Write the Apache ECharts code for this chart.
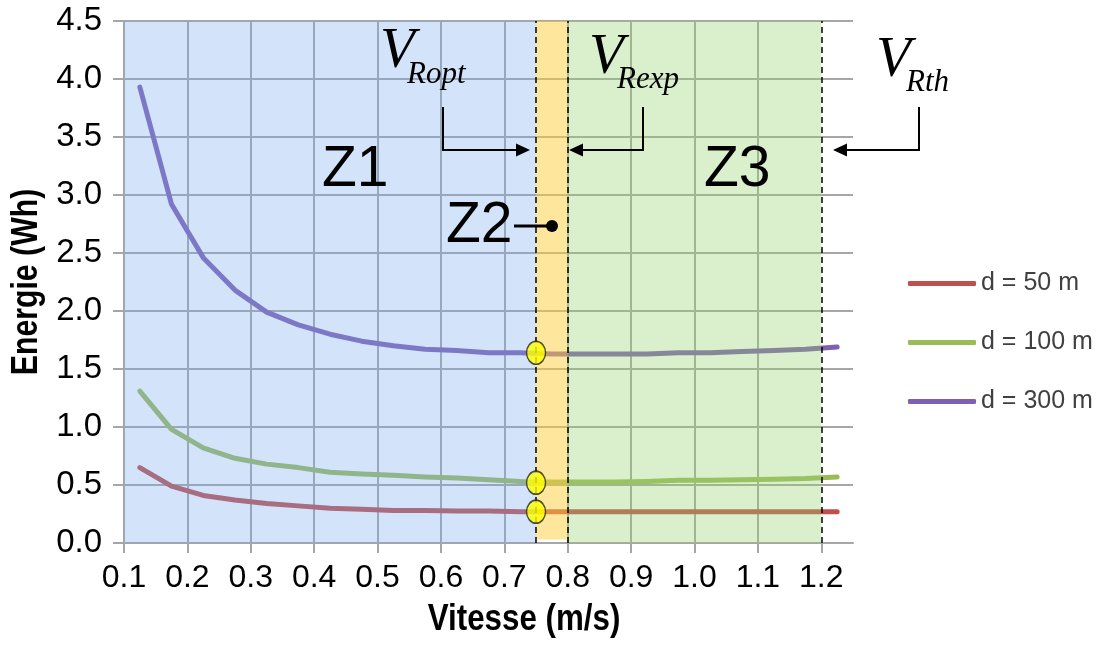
<!DOCTYPE html>
<html>
<head>
<meta charset="utf-8">
<script src="https://cdn.jsdelivr.net/npm/echarts@6/dist/echarts.min.js"></script>
<style>
  html, body { margin: 0; padding: 0; background: #fff; }
  #main { width: 1109px; height: 645px; }
</style>
</head>
<body>
<div id="main"></div>
<script>
// vitesse (m/s)
var vitesse = [0.125, 0.175, 0.225, 0.275, 0.325, 0.375, 0.425, 0.475, 0.525, 0.575, 0.625, 0.675,
               0.725, 0.775, 0.825, 0.875, 0.925, 0.975, 1.025, 1.075, 1.125, 1.175, 1.225];
// energie (Wh)
var d50  = [0.65, 0.49, 0.41, 0.37, 0.34, 0.32, 0.30, 0.29, 0.28, 0.28, 0.275, 0.275,
            0.27, 0.27, 0.27, 0.27, 0.27, 0.27, 0.27, 0.27, 0.27, 0.27, 0.27];
var d100 = [1.31, 0.98, 0.82, 0.73, 0.68, 0.65, 0.61, 0.595, 0.585, 0.57, 0.56, 0.545,
            0.53, 0.525, 0.525, 0.525, 0.53, 0.54, 0.54, 0.545, 0.55, 0.555, 0.57];
var d300 = [3.93, 2.92, 2.46, 2.18, 1.99, 1.88, 1.80, 1.74, 1.70, 1.67, 1.66, 1.64,
            1.64, 1.63, 1.63, 1.63, 1.63, 1.64, 1.64, 1.65, 1.66, 1.67, 1.69];
var seriesNames = ['d = 50 m', 'd = 100 m', 'd = 300 m'];
var xTicks = [0.1, 0.2, 0.3, 0.4, 0.5, 0.6, 0.7, 0.8, 0.9, 1.0, 1.1, 1.2];
// zones Z1 / Z2 / Z3 and the V_Ropt, V_Rexp, V_Rth limits
var zoneZ1 = [0.1, 0.75];
var zoneZ2 = [0.75, 0.8];
var zoneZ3 = [0.8, 1.2];
var limits = [0.75, 0.8, 1.2];
var optDots = [[0.75, 0.27], [0.75, 0.52], [0.75, 1.64]];

function pairs(xs, ys) {
  return xs.map(function (x, i) { return [x, ys[i]]; });
}

var myChart = echarts.init(document.getElementById('main'));

var labelFont = '"Liberation Sans", Arial, sans-serif';
var serif = '"Liberation Serif", "Times New Roman", serif';
var gridGray = '#a6a6a6';

var lineStyleOf = function (c) {
  return { width: 5, color: c, cap: 'round', join: 'round' };
};

myChart.setOption({
  animation: false,
  backgroundColor: '#fff',
  grid: { left: 124, right: 256, top: 21, bottom: 102 },
  legend: {
    data: seriesNames,
    orient: 'vertical',
    left: 903,
    top: 266,
    icon: 'roundRect',
    itemWidth: 68,
    itemHeight: 5,
    itemGap: 34,
    itemStyle: { borderWidth: 0 },
    textStyle: { fontFamily: labelFont, fontSize: 25, color: '#404040', lineHeight: 25 }
  },
  xAxis: {
    type: 'value',
    min: 0.1,
    max: 1.25,
    interval: 0.1,
    axisLine: { show: true, lineStyle: { color: gridGray, width: 2 } },
    axisTick: { show: true, length: 10, customValues: xTicks, lineStyle: { color: gridGray, width: 2 } },
    axisLabel: {
      customValues: xTicks,
      margin: 19,
      fontFamily: labelFont, fontSize: 32, color: '#000',
      formatter: function (v) { return v.toFixed(1); }
    },
    splitLine: { show: true, showMaxLine: false, lineStyle: { color: gridGray, width: 2 } }
  },
  yAxis: {
    type: 'value',
    min: 0,
    max: 4.5,
    interval: 0.5,
    axisLine: { show: true, lineStyle: { color: gridGray, width: 2 } },
    axisTick: { show: true, length: 11, lineStyle: { color: gridGray, width: 2 } },
    axisLabel: {
      margin: 22,
      fontFamily: labelFont, fontSize: 33, color: '#000',
      formatter: function (v) { return v.toFixed(1); }
    },
    splitLine: { show: true, lineStyle: { color: gridGray, width: 2 } }
  },
  series: [
    { name: seriesNames[0], type: 'line', z: 2, symbol: 'none', color: '#c0504d',
      lineStyle: lineStyleOf('#c0504d'), data: pairs(vitesse, d50) },
    { name: seriesNames[1], type: 'line', z: 2, symbol: 'none', color: '#9bbb59',
      lineStyle: lineStyleOf('#9bbb59'), data: pairs(vitesse, d100) },
    { name: seriesNames[2], type: 'line', z: 2, symbol: 'none', color: '#7f60b0',
      lineStyle: lineStyleOf('#7f60b0'), data: pairs(vitesse, d300) },
    // zones (translucent overlay, above the curves)
    {
      name: 'zones', type: 'line', z: 3, data: [], silent: true,
      markArea: {
        z: 3,
        silent: true,
        label: { show: false },
        data: [
          [{ xAxis: zoneZ1[0], yAxis: 0, itemStyle: { color: 'rgba(120,170,240,0.33)' } }, { xAxis: zoneZ1[1], yAxis: 4.5 }],
          [{ xAxis: zoneZ2[0], yAxis: 0.03, itemStyle: { color: 'rgba(253,208,60,0.5)' } }, { xAxis: zoneZ2[1], yAxis: 4.5 }],
          [{ xAxis: zoneZ3[0], yAxis: 0, itemStyle: { color: 'rgba(150,210,110,0.35)' } }, { xAxis: zoneZ3[1], yAxis: 4.5 }]
        ]
      }
    },
    // limits
    {
      name: 'limits', type: 'line', z: 4, data: [], silent: true,
      markLine: {
        z: 4,
        silent: true,
        symbol: 'none',
        label: { show: false },
        lineStyle: { color: '#000', type: [6, 4], width: 1.5 },
        data: limits.map(function (v) { return { xAxis: v }; })
      }
    },
    {
      name: 'vopt', type: 'scatter', z: 6, silent: true,
      symbol: 'circle', symbolSize: [19, 23],
      itemStyle: { color: '#ffff00', borderColor: '#222', borderWidth: 1.5 },
      data: optDots
    }
  ],
  graphic: [
    // axis titles
    { type: 'text', z: 10, x: 524, y: 620, scaleX: 0.87,
      style: { x: 0, y: 0, text: 'Vitesse (m/s)', align: 'center', verticalAlign: 'middle', font: 'bold 36px "Liberation Sans", Arial, sans-serif', fill: '#000' } },
    { type: 'text', z: 10, x: 27, y: 282, rotation: Math.PI / 2, scaleX: 0.84,
      style: { x: 0, y: 0, text: 'Energie (Wh)', align: 'center', verticalAlign: 'middle', font: 'bold 36px "Liberation Sans", Arial, sans-serif', fill: '#000' } },
    // V_Ropt
    { type: 'text', z: 10, style: { x: 380, y: 52, text: 'V', verticalAlign: 'middle', font: 'italic 57px ' + serif, fill: '#000' } },
    { type: 'text', z: 10, style: { x: 407, y: 75, text: 'Ropt', verticalAlign: 'middle', font: 'italic 31px ' + serif, fill: '#000' } },
    // V_Rexp
    { type: 'text', z: 10, style: { x: 589, y: 58, text: 'V', verticalAlign: 'middle', font: 'italic 57px ' + serif, fill: '#000' } },
    { type: 'text', z: 10, style: { x: 617, y: 80, text: 'Rexp', verticalAlign: 'middle', font: 'italic 31px ' + serif, fill: '#000' } },
    // V_Rth
    { type: 'text', z: 10, style: { x: 876, y: 61, text: 'V', verticalAlign: 'middle', font: 'italic 57px ' + serif, fill: '#000' } },
    { type: 'text', z: 10, style: { x: 906, y: 83, text: 'Rth', verticalAlign: 'middle', font: 'italic 31px ' + serif, fill: '#000' } },
    // arrows
    { type: 'polyline', z: 10, shape: { points: [[443, 107], [443, 150], [518, 150]] }, style: { stroke: '#000', lineWidth: 2, fill: null } },
    { type: 'polygon', z: 10, shape: { points: [[530, 150], [516, 143.5], [516, 156.5]] }, style: { fill: '#000' } },
    { type: 'polyline', z: 10, shape: { points: [[643, 107], [643, 150], [581, 150]] }, style: { stroke: '#000', lineWidth: 2, fill: null } },
    { type: 'polygon', z: 10, shape: { points: [[569, 150], [583, 143.5], [583, 156.5]] }, style: { fill: '#000' } },
    { type: 'polyline', z: 10, shape: { points: [[919, 107], [919, 150], [845, 150]] }, style: { stroke: '#000', lineWidth: 2, fill: null } },
    { type: 'polygon', z: 10, shape: { points: [[833, 150], [847, 143.5], [847, 156.5]] }, style: { fill: '#000' } },
    // zone labels
    { type: 'text', z: 10, style: { x: 322, y: 170, text: 'Z1', verticalAlign: 'middle', font: '57px "Liberation Sans", Arial, sans-serif', fill: '#000' } },
    { type: 'text', z: 10, style: { x: 704, y: 170, text: 'Z3', verticalAlign: 'middle', font: '57px "Liberation Sans", Arial, sans-serif', fill: '#000' } },
    { type: 'text', z: 10, style: { x: 446, y: 226, text: 'Z2', verticalAlign: 'middle', font: '57px "Liberation Sans", Arial, sans-serif', fill: '#000' } },
    { type: 'line', z: 10, shape: { x1: 514, y1: 226, x2: 552, y2: 226 }, style: { stroke: '#000', lineWidth: 3 } },
    { type: 'circle', z: 10, shape: { cx: 552, cy: 226, r: 6 }, style: { fill: '#000' } }
  ]
});
</script>
</body>
</html>
